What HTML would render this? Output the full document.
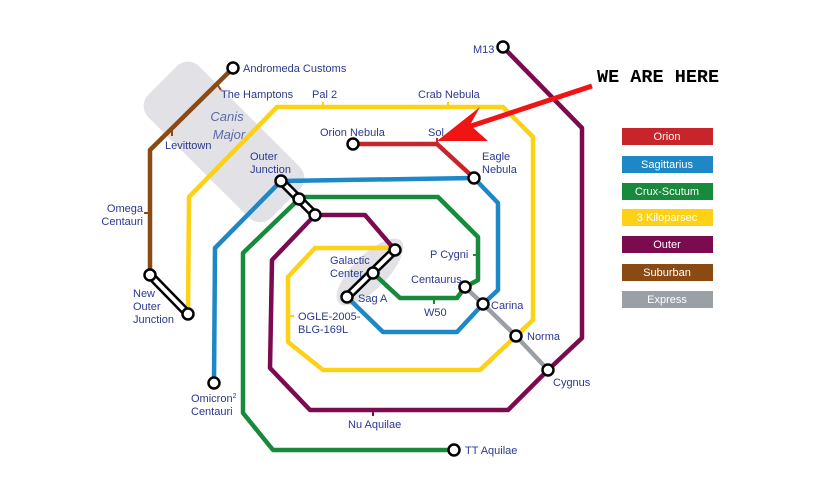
<!DOCTYPE html>
<html><head><meta charset="utf-8"><style>
html,body{margin:0;padding:0;background:#fff;width:818px;height:500px;overflow:hidden}
svg text{font-family:"Liberation Sans",sans-serif;font-size:11px;fill:#2b3990}
.lg{fill:#fff;font-size:11px;text-anchor:middle}
</style></head><body>
<svg width="818" height="500" viewBox="0 0 818 500" xmlns="http://www.w3.org/2000/svg">
<g transform="rotate(45 224 142)"><rect x="137" y="106" width="174" height="72" rx="16" fill="#e1e1e6"/></g>
<ellipse cx="370" cy="272" rx="44" ry="17" fill="#e1e1e6" transform="rotate(-45 370 272)"/>
<g fill="none" stroke-width="4.5" stroke-linejoin="round">
<polyline points="233,68 150,150 150,275" stroke="#8b4a14"/>
<line x1="217" y1="84" x2="221" y2="90" stroke="#8b4a14" stroke-width="2"/>
<line x1="172" y1="129" x2="172" y2="136" stroke="#8b4a14" stroke-width="2"/>
<line x1="144" y1="213" x2="150" y2="213" stroke="#8b4a14" stroke-width="2"/>
<polyline points="188,314 189,197 277,107 503,107 533,137 533,320 516,336 480,370 323,370 288,342 288,277 315,248 395,248" stroke="#fcd116"/>
<line x1="323" y1="102" x2="323" y2="107" stroke="#fcd116" stroke-width="2"/>
<line x1="448" y1="102" x2="448" y2="107" stroke="#fcd116" stroke-width="2"/>
<line x1="288" y1="316" x2="294" y2="316" stroke="#fcd116" stroke-width="2"/>
<polyline points="214,383 215,248 281,181 474,178 498,203 498,290 483,304 457,332 383,332 347,297" stroke="#1e88c6"/>
<polyline points="299,199 300,197 438,197 478,237 478,280 465,287 457,298 400,298 373,273" stroke="#178a3c"/>
<polyline points="299,199 243,253 243,413 273,450 454,450" stroke="#178a3c"/>
<line x1="473" y1="255" x2="478" y2="255" stroke="#178a3c" stroke-width="2"/>
<line x1="434" y1="298" x2="434" y2="304" stroke="#178a3c" stroke-width="2"/>
<polyline points="315,215 365,215 395,250" stroke="#7b0a4f"/>
<polyline points="315,215 272,260 270,368 310,410 508,410 548,370 582,338 582,128 503,47" stroke="#7b0a4f"/>
<line x1="373" y1="410" x2="373" y2="416" stroke="#7b0a4f" stroke-width="2"/>
<polyline points="353,144 437,144 474,178" stroke="#c8252a"/>
<line x1="437" y1="138" x2="437" y2="144" stroke="#c8252a" stroke-width="2"/>
<polyline points="465,287 483,304 516,336 548,370" stroke="#9aa0a6"/>
</g>
<g stroke-linecap="round">
<line x1="281" y1="181" x2="315" y2="215" stroke="#000" stroke-width="9"/>
<line x1="281" y1="181" x2="315" y2="215" stroke="#fff" stroke-width="4"/>
<line x1="150" y1="275" x2="188" y2="314" stroke="#000" stroke-width="9"/>
<line x1="150" y1="275" x2="188" y2="314" stroke="#fff" stroke-width="4"/>
<line x1="395" y1="250" x2="347" y2="297" stroke="#000" stroke-width="9"/>
<line x1="395" y1="250" x2="347" y2="297" stroke="#fff" stroke-width="4"/>
</g>
<g fill="#fff" stroke="#000" stroke-width="2.5">
<circle cx="233" cy="68" r="5.5"/><circle cx="503" cy="47" r="5.5"/>
<circle cx="353" cy="144" r="5.5"/><circle cx="474" cy="178" r="5.5"/>
<circle cx="281" cy="181" r="5.5"/><circle cx="299" cy="199" r="5.5"/><circle cx="315" cy="215" r="5.5"/>
<circle cx="150" cy="275" r="5.5"/><circle cx="188" cy="314" r="5.5"/>
<circle cx="395" cy="250" r="5.5"/><circle cx="373" cy="273" r="5.5"/><circle cx="347" cy="297" r="5.5"/>
<circle cx="465" cy="287" r="5.5"/><circle cx="483" cy="304" r="5.5"/><circle cx="516" cy="336" r="5.5"/><circle cx="548" cy="370" r="5.5"/>
<circle cx="214" cy="383" r="5.5"/><circle cx="454" cy="450" r="5.5"/>
</g>
<line x1="592" y1="86" x2="465" y2="128" stroke="#f01414" stroke-width="5"/>
<polygon points="437,141 480,107 470,125 488,141" fill="#f01414"/>
<text x="597" y="82" style="font-family:'Liberation Mono',monospace;font-weight:bold;font-size:18.5px;fill:#000">WE ARE HERE</text>
<text x="243" y="72">Andromeda Customs</text>
<text x="221" y="98">The Hamptons</text>
<text x="165" y="149">Levittown</text>
<text x="227" y="121" style="font-style:italic;font-size:13px;fill:#5a6aa8" text-anchor="middle">Canis</text>
<text x="229" y="139" style="font-style:italic;font-size:13px;fill:#5a6aa8" text-anchor="middle">Major</text>
<text x="312" y="98">Pal 2</text>
<text x="418" y="98">Crab Nebula</text>
<text x="320" y="136">Orion Nebula</text>
<text x="428" y="136">Sol</text>
<text x="482" y="160">Eagle</text>
<text x="482" y="173">Nebula</text>
<text x="250" y="160">Outer</text>
<text x="250" y="173">Junction</text>
<text x="143" y="212" text-anchor="end">Omega</text>
<text x="143" y="225" text-anchor="end">Centauri</text>
<text x="133" y="297">New</text>
<text x="133" y="310">Outer</text>
<text x="133" y="323">Junction</text>
<text x="330" y="264">Galactic</text>
<text x="330" y="277">Center</text>
<text x="358" y="302">Sag A</text>
<text x="430" y="258">P Cygni</text>
<text x="411" y="283">Centaurus</text>
<text x="424" y="316">W50</text>
<text x="491" y="309">Carina</text>
<text x="527" y="340">Norma</text>
<text x="298" y="320">OGLE-2005-</text>
<text x="298" y="333">BLG-169L</text>
<text x="553" y="386">Cygnus</text>
<text x="191" y="402">Omicron<tspan font-size="7" dy="-4">2</tspan></text>
<text x="191" y="415">Centauri</text>
<text x="348" y="428">Nu Aquilae</text>
<text x="465" y="454">TT Aquilae</text>
<text x="473" y="53">M13</text>
<rect x="622" y="128" width="91" height="17" fill="#c8252a"/><text class="lg" x="667" y="140">Orion</text>
<rect x="622" y="156" width="91" height="17" fill="#1e88c6"/><text class="lg" x="667" y="168">Sagittarius</text>
<rect x="622" y="183" width="91" height="17" fill="#178a3c"/><text class="lg" x="667" y="195">Crux-Scutum</text>
<rect x="622" y="209" width="91" height="17" fill="#fcd116"/><text class="lg" x="667" y="221">3 Kiloparsec</text>
<rect x="622" y="236" width="91" height="17" fill="#7b0a4f"/><text class="lg" x="667" y="248">Outer</text>
<rect x="622" y="264" width="91" height="17" fill="#8b4a14"/><text class="lg" x="667" y="276">Suburban</text>
<rect x="622" y="291" width="91" height="17" fill="#9aa0a6"/><text class="lg" x="667" y="303">Express</text>
</svg>
</body></html>
